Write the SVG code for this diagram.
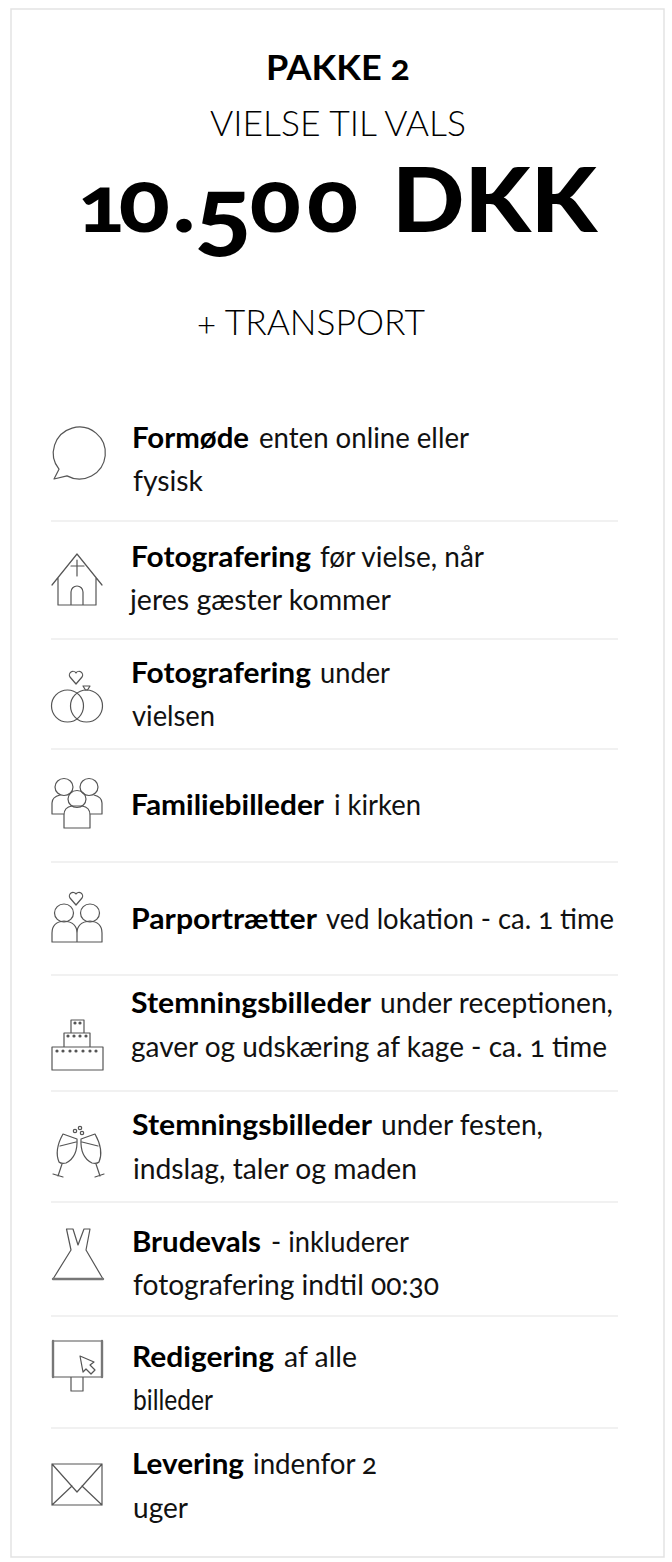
<svg xmlns="http://www.w3.org/2000/svg" width="672" height="1562" viewBox="0 0 672 1562">
<style>
text{font-family:"Lato","Open Sans","Liberation Sans",sans-serif;fill:#111;font-variant-numeric:oldstyle-nums;font-feature-settings:"onum" 1}
.b{font-weight:700;font-size:28px;fill:#000}
.r{font-weight:400;font-size:28px}
.h{font-weight:300;font-size:36px;fill:#000}
.big{font-weight:900;fill:#000}
g[id^=item] .r{transform:translate(0,.6px)}
g[id^=item] .b{transform:translate(-1px,.6px)}
.ic{fill:none;stroke:#555;stroke-width:1.2;stroke-linejoin:round;stroke-linecap:round}
.th{stroke-width:2.4;stroke:#777}
.sep{stroke:#e4e4e4;stroke-width:1.2}
</style>
<rect width="672" height="1562" fill="#fff"/>
<rect x="11" y="9" width="653" height="1548" fill="#fff" stroke="#e3e3e3" stroke-width="1.5"/>
<g id="header">
<text class="b" x="266" y="80" style="font-size:34px" textLength="144" lengthAdjust="spacingAndGlyphs">PAKKE 2</text>
<text class="h" x="210" y="136" textLength="256" lengthAdjust="spacingAndGlyphs">VIELSE TIL VALS</text>
<text class="big" y="232" transform="scale(1.1 1)" style="font-size:86px"><tspan x="71" style="font-size:78px">1</tspan><tspan x="108">0</tspan><tspan x="157">.</tspan><tspan x="177" dy="14" style="font-size:96px">5</tspan><tspan x="227" dy="-14">0</tspan><tspan x="279">0</tspan></text>
<text class="big" x="392" y="232" style="font-size:90px" textLength="205" lengthAdjust="spacingAndGlyphs">DKK</text>
<text class="h" x="197" y="335" textLength="228" lengthAdjust="spacingAndGlyphs">+ TRANSPORT</text>
</g>
<g id="connectors">
<path class="sep" d="M51 521H618M51 639H618M51 749H618M51 862H618M51 975H618M51 1091H618M51 1202H618M51 1316H618M51 1428H618"/>
</g>
<g id="item1">
<path class="ic" d="M59 469.200L54 479L67 475.900A26 26 0 1 0 59 469.200Z"/>
<text class="b" x="133" y="447" textLength="117" lengthAdjust="spacingAndGlyphs">Formøde</text><text class="r" x="259" y="447" textLength="210" lengthAdjust="spacingAndGlyphs">enten online eller</text>
<text class="r" x="133" y="490" textLength="70" lengthAdjust="spacingAndGlyphs">fysisk</text>
</g>
<g id="item2">
<path class="ic" d="M52 585L77 554L102 585M58 578V605H96V578M71 605V592A6 6 0 0 1 83 592V605M77 560V576M71 566H84"/>
<text class="b" x="132" y="566" textLength="180" lengthAdjust="spacingAndGlyphs">Fotografering</text><text class="r" x="320" y="566" textLength="164" lengthAdjust="spacingAndGlyphs">før vielse, når</text>
<text class="r" x="130" y="609" textLength="261" lengthAdjust="spacingAndGlyphs">jeres gæster kommer</text>
</g>
<g id="item3">
<circle class="ic" cx="67.5" cy="706" r="16"/><circle class="ic" cx="86.5" cy="706" r="16"/>
<path class="ic" d="M83 686H90L87.5 690H85.5ZM76 684L70 677A3.6 3.6 0 0 1 76 673A3.6 3.6 0 0 1 82 677Z"/>
<text class="b" x="132" y="682" textLength="180" lengthAdjust="spacingAndGlyphs">Fotografering</text><text class="r" x="320" y="682" textLength="70" lengthAdjust="spacingAndGlyphs">under</text>
<text class="r" x="132" y="725" textLength="83" lengthAdjust="spacingAndGlyphs">vielsen</text>
</g>
<g id="item4">
<ellipse class="ic" cx="64" cy="787" rx="9" ry="8.5"/><ellipse class="ic" cx="89" cy="787" rx="9" ry="8.5"/><ellipse class="ic" cx="77" cy="799" rx="9" ry="8.5"/>
<path class="ic" d="M64 814H52V803Q52 797 60 795M90 814H102V803Q102 797 94 795M64 828V815Q64 807 72 806H82Q90 807 90 815V828Z"/>
<text class="b" x="132" y="814" textLength="193" lengthAdjust="spacingAndGlyphs">Familiebilleder</text><text class="r" x="334" y="814" textLength="87" lengthAdjust="spacingAndGlyphs">i kirken</text>
</g>
<g id="item5">
<ellipse class="ic" cx="64" cy="913" rx="9.500" ry="9"/><ellipse class="ic" cx="90" cy="913" rx="9.500" ry="9"/>
<path class="ic" d="M52 942V933Q52 922 64 921Q77 922 77 933V942ZM77 942V933Q77 922 90 921Q102 922 102 933V942ZM76 905L70 898A3.600 3.600 0 0 1 76 894A3.600 3.600 0 0 1 82 898Z"/>
<text class="b" x="132" y="928" textLength="186" lengthAdjust="spacingAndGlyphs">Parportrætter</text><text class="r" x="326" y="928" textLength="288" lengthAdjust="spacingAndGlyphs">ved lokation - ca. 1 time</text>
</g>
<g id="item6">
<path class="ic" d="M52 1047H103V1070H52ZM64 1047V1033H90V1047M71 1033V1020H84V1033"/>
<g fill="#555"><circle cx="57" cy="1051" r="1.6"/><circle cx="63" cy="1051" r="1.6"/><circle cx="70" cy="1051" r="1.6"/><circle cx="76" cy="1051" r="1.6"/><circle cx="83" cy="1051" r="1.6"/><circle cx="90" cy="1051" r="1.6"/><circle cx="96" cy="1051" r="1.6"/><circle cx="68" cy="1036" r="1.6"/><circle cx="74" cy="1036" r="1.6"/><circle cx="80" cy="1036" r="1.6"/><circle cx="86" cy="1036" r="1.6"/><circle cx="75" cy="1023" r="1.6"/><circle cx="80" cy="1023" r="1.6"/></g>
<text class="b" x="132" y="1012" textLength="240" lengthAdjust="spacingAndGlyphs">Stemningsbilleder</text><text class="r" x="380" y="1012" textLength="233" lengthAdjust="spacingAndGlyphs">under receptionen,</text>
<text class="r" x="131" y="1056" textLength="476" lengthAdjust="spacingAndGlyphs">gaver og udskæring af kage - ca. 1 time</text>
</g>
<g id="item7">
<path class="ic" d="M63 1134L77 1139Q78 1157 66 1163Q61 1164 59 1162Q54 1150 63 1134ZM60 1146L76 1142M62 1164L58 1176M53 1174L63 1177M95 1134L81 1139Q80 1157 92 1163Q97 1164 99 1162Q104 1150 95 1134ZM98 1146L82 1142M96 1164L100 1176M95 1177L104 1174"/>
<circle class="ic" cx="75" cy="1131" r="1.7"/><circle class="ic" cx="80" cy="1128" r="1.7"/><circle class="ic" cx="82" cy="1133" r="1.7"/>
<text class="b" x="133" y="1134" textLength="240" lengthAdjust="spacingAndGlyphs">Stemningsbilleder</text><text class="r" x="381" y="1134" textLength="162" lengthAdjust="spacingAndGlyphs">under festen,</text>
<text class="r" x="133" y="1178" textLength="284" lengthAdjust="spacingAndGlyphs">indslag, taler og maden</text>
</g>
<g id="item8">
<path class="ic" d="M53 1279L71 1250L66.500 1229H73L78 1245L84 1229H90L86 1250L103 1279Z"/>
<path class="ic th" d="M53 1279H103"/>
<text class="b" x="133" y="1251" textLength="129" lengthAdjust="spacingAndGlyphs">Brudevals</text><text class="r" x="271" y="1251" textLength="138" lengthAdjust="spacingAndGlyphs">- inkluderer</text>
<text class="r" x="133" y="1294" textLength="306" lengthAdjust="spacingAndGlyphs">fotografering indtil 00:30</text>
</g>
<g id="item9">
<path class="ic" d="M53 1341H102V1377H53ZM71 1377V1391H83V1377M80 1356L94 1362L90 1365L95 1370L91 1374L86 1369L83 1372Z"/>
<path class="ic th" d="M53 1341V1377M102 1341V1377"/>
<text class="b" x="133" y="1366" textLength="142" lengthAdjust="spacingAndGlyphs">Redigering</text><text class="r" x="284" y="1366" textLength="73" lengthAdjust="spacingAndGlyphs">af alle</text>
<text class="r" x="133" y="1409" textLength="80" lengthAdjust="spacingAndGlyphs">billeder</text>
</g>
<g id="item10">
<path class="ic" d="M52 1464H102V1505H52ZM52 1464L77 1492L102 1464M52 1505L72 1486M102 1505L82 1486"/>
<text class="b" x="133" y="1473" textLength="112" lengthAdjust="spacingAndGlyphs">Levering</text><text class="r" x="253" y="1473" textLength="124" lengthAdjust="spacingAndGlyphs">indenfor 2</text>
<text class="r" x="133" y="1517" textLength="55" lengthAdjust="spacingAndGlyphs">uger</text>
</g>
</svg>
